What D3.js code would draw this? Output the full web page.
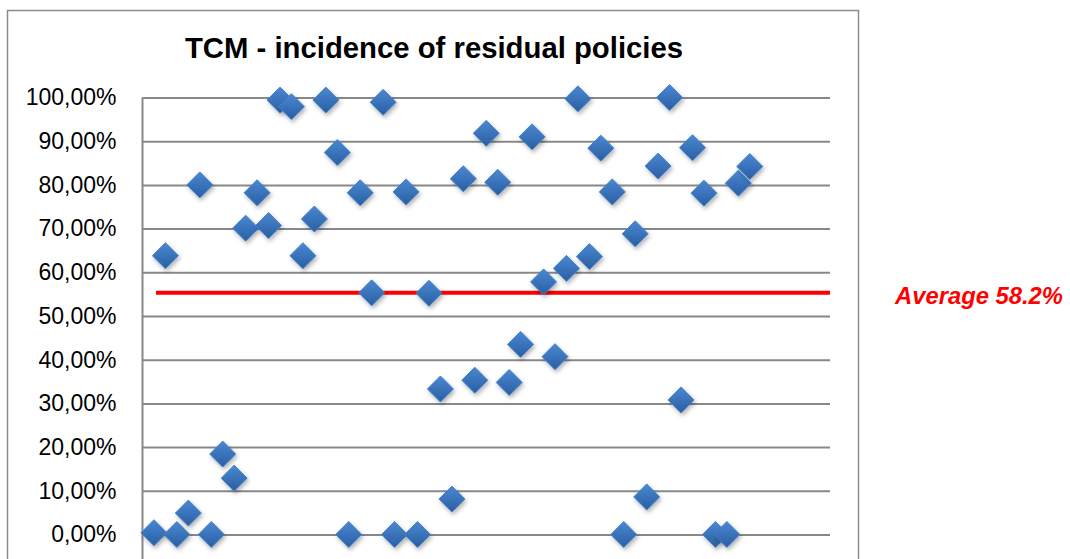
<!DOCTYPE html>
<html lang="en">
<head>
  <meta charset="UTF-8">
  <title>TCM - incidence of residual policies</title>
  <script src="https://cdn.jsdelivr.net/npm/d3@7"></script>
  <style>
    body { margin: 0; background: #fff; }
    text { font-family: "Liberation Sans", Arial, sans-serif; }
  </style>
</head>
<body>
  <svg width="1070" height="559"></svg>
  <script>
    // values, one per policy (x = 1..53)
    var policies = d3.range(1, 54);
    var incidence = [
      0.4, 63.8, 0, 4.9, 80, 0, 18.4, 12.9, 70.1, 78.2,
      70.7, 99.4, 97.9, 63.8, 72.2, 99.4, 87.4, 0, 78.2, 55.3,
      98.9, 0, 78.4, 0, 55.2, 33.3, 8.1, 81.4, 35.3, 91.8,
      80.6, 34.8, 43.5, 91.0, 57.8, 40.7, 60.9, 99.7, 63.6, 88.4,
      78.4, 0, 68.8, 8.6, 84.3, 100, 30.8, 88.5, 78.1, 0,
      0, 80.4, 84.2
    ];
    var yTicks = [0, 10, 20, 30, 40, 50, 60, 70, 80, 90, 100];
    var averageLine = 55.3;
    var averageLabel = 'Average 58.2%';
    var title = 'TCM - incidence of residual policies';

    var svg = d3.select('svg');
    var margin = {top: 97.5, right: 240, bottom: 24.5, left: 142.5};
    var width = 830 - margin.left;
    var height = 534.5 - margin.top;

    var defs = svg.append('defs');
    var grad = defs.append('linearGradient')
      .attr('id', 'blue')
      .attr('x1', 0).attr('y1', 0).attr('x2', 0).attr('y2', 1);
    grad.append('stop').attr('offset', '0%').attr('stop-color', '#4a88d2');
    grad.append('stop').attr('offset', '100%').attr('stop-color', '#2a5ea2');
    var shadow = defs.append('filter')
      .attr('id', 'shadow')
      .attr('x', '-50%').attr('y', '-50%').attr('width', '200%').attr('height', '200%');
    shadow.append('feDropShadow')
      .attr('dx', 1.5).attr('dy', 2.5).attr('stdDeviation', 2)
      .attr('flood-color', '#000').attr('flood-opacity', 0.3);

    // chart frame
    svg.append('rect')
      .attr('x', 7.5).attr('y', 10.5)
      .attr('width', 851).attr('height', 560)
      .attr('fill', 'none')
      .attr('stroke', '#8c8c8c')
      .attr('stroke-width', 1.5);

    svg.append('text')
      .attr('x', 434)
      .attr('y', 58)
      .attr('text-anchor', 'middle')
      .attr('font-size', '29.3px')
      .attr('font-weight', 'bold')
      .text(title);

    var chart = svg.append('g')
      .attr('transform', 'translate(' + margin.left + ',' + margin.top + ')');

    var xScale = d3.scaleLinear().domain([0, 60]).range([0, width]);
    var yScale = d3.scaleLinear().domain([0, 100]).range([height, 0]);

    var yAxis = chart.append('g')
      .call(d3.axisLeft(yScale)
        .tickValues(yTicks)
        .tickSize(-width)
        .tickPadding(26)
        .tickFormat(function(d) { return d3.format('.2f')(d).replace('.', ',') + '%'; }));
    yAxis.select('.domain').remove();
    yAxis.selectAll('.tick line')
      .attr('stroke', '#888')
      .attr('stroke-width', 2);
    yAxis.selectAll('.tick text')
      .attr('fill', '#000')
      .attr('font-size', '23px')
      .attr('font-family', '"Liberation Sans", Arial, sans-serif');

    // vertical axis line
    chart.append('line')
      .attr('x1', 0).attr('x2', 0)
      .attr('y1', 0).attr('y2', height + 30)
      .attr('stroke', '#888')
      .attr('stroke-width', 2);

    // average line
    chart.append('line')
      .attr('x1', 13.5).attr('x2', width)
      .attr('y1', yScale(averageLine)).attr('y2', yScale(averageLine))
      .attr('stroke', '#ff0000')
      .attr('stroke-width', 4);

    svg.append('text')
      .attr('x', 1063)
      .attr('y', 304)
      .attr('text-anchor', 'end')
      .attr('fill', '#ff0000')
      .attr('font-size', '23.8px')
      .attr('font-weight', 'bold')
      .attr('font-style', 'italic')
      .text(averageLabel);

    var r = 13;
    chart.selectAll('.point')
      .data(incidence)
      .enter()
      .append('path')
      .attr('class', 'point')
      .attr('d', 'M0,' + (-r) + 'L' + r + ',0L0,' + r + 'L' + (-r) + ',0Z')
      .attr('transform', function(d, i) {
        return 'translate(' + xScale(policies[i]) + ',' + yScale(d) + ')';
      })
      .attr('fill', 'url(#blue)')
      .attr('stroke', '#4182cc')
      .attr('stroke-width', 1)
      .attr('filter', 'url(#shadow)');
  </script>
</body>
</html>
